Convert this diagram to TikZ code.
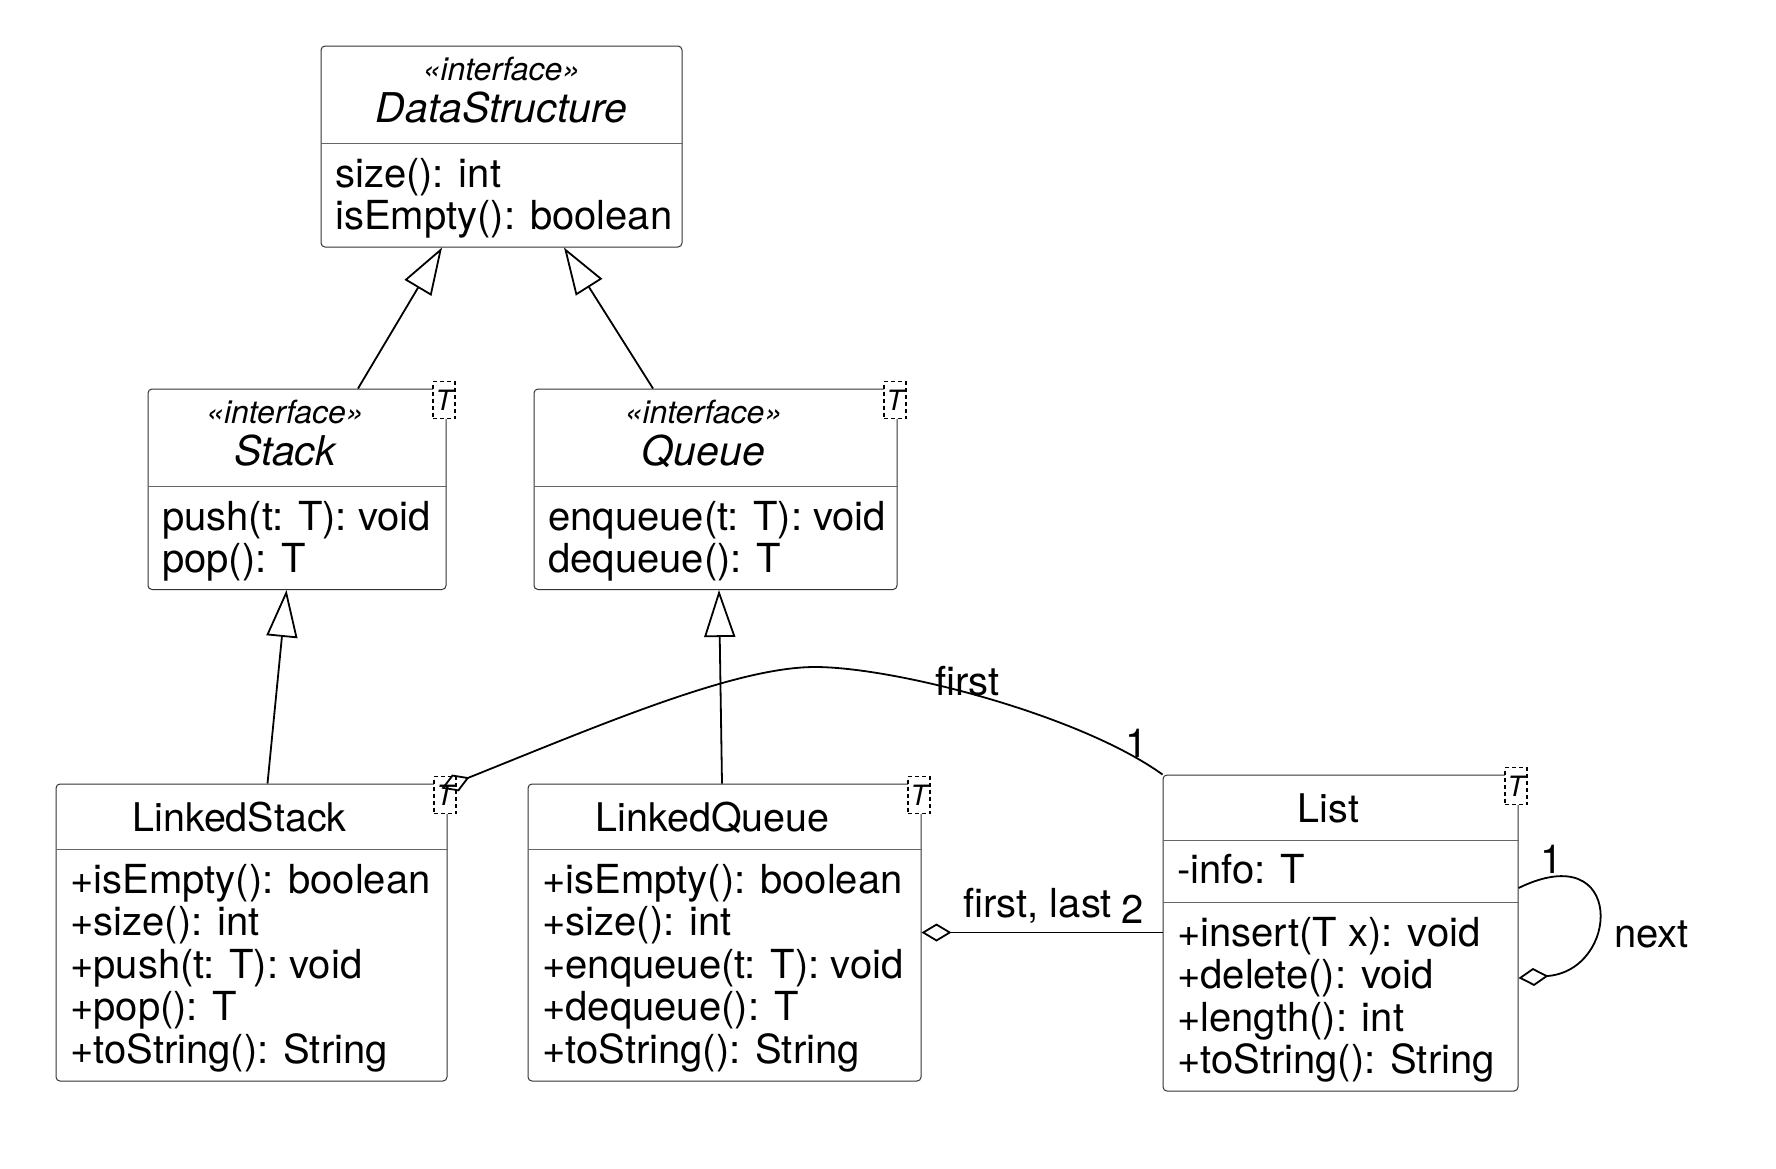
\documentclass[tikz,border=0pt]{standalone}
\usepackage{fontspec}
\setmainfont{TeX Gyre Heros}
\usetikzlibrary{arrows.meta}
\tikzset{
    classbox/.style = {draw=black!80, line width=1pt, rounded corners=4pt, inner sep=0pt},
    divider/.style = {draw=black!60, line width=1pt},
    member/.style = {anchor=base west, inner sep=0pt, font=\fontsize{40}{42}\selectfont},
    classname/.style = {anchor=base, inner sep=0pt, font=\fontsize{39.5}{42}\selectfont},
    ifname/.style = {classname, font=\itshape\fontsize{41}{42}\selectfont},
    stereo/.style = {anchor=base, inner sep=0pt, font=\itshape\fontsize{32}{34}\selectfont},
    tparam/.style = {draw=black, fill=white, line width=1.3pt, dash pattern=on 4pt off 3pt,
        minimum width=22pt, minimum height=37pt, inner sep=0pt, font=\itshape\fontsize{28}{28}\selectfont},
    realize/.style = {draw, line width=1.8pt, -{Triangle[open, length=47pt, width=31pt]}},
    aggr/.style = {draw, line width=1.8pt, {Diamond[open, length=30pt, width=18pt]}-},
    role/.style = {anchor=base west, inner sep=0pt, font=\fontsize{40}{42}\selectfont}
}
\begin{document}
\begin{tikzpicture}[x=1pt, y=-1pt]
    \useasboundingbox (0,0) rectangle (1776,1168);

    % class boxes
    \node[classbox, minimum width=361pt, minimum height=201pt] (ds) at (501.5,146.5) {};
    \node[classbox, minimum width=298pt, minimum height=200.5pt] (stack) at (297,489.25) {};
    \node[classbox, minimum width=363pt, minimum height=200.5pt] (queue) at (715.5,489.25) {};
    \node[classbox, minimum width=391pt, minimum height=297pt] (ls) at (251.5,932.5) {};
    \node[classbox, minimum width=393pt, minimum height=297pt] (lq) at (724.5,932.5) {};
    \node[classbox, minimum width=355pt, minimum height=316pt] (list) at (1340.5,933) {};

    % compartments
    \foreach \c/\d in {ds/98, stack/98, queue/98, ls/66, lq/66, list/66, list/128}
        \draw[divider] ([yshift=-\d pt]\c.north west) -- ([yshift=-\d pt]\c.north east);

    % DataStructure
    \node[stereo] (ds-st) at (501.5,80) {«interface»};
    \node[ifname] (ds-n) at (501.5,122) {DataStructure};
    \foreach \m [count=\i] in {size(): int, isEmpty(): boolean}
        \node[member] (ds-m\i) at ({335},{187+42.5*(\i-1)}) {\m};

    % Stack
    \node[stereo] (stack-st) at (285,423) {«interface»};
    \node[ifname] (stack-n) at (285,465) {Stack};
    \foreach \m [count=\i] in {push(t: T): void, pop(): T}
        \node[member] (stack-m\i) at ({162},{530+42.5*(\i-1)}) {\m};

    % Queue
    \node[stereo] (queue-st) at (703.5,423) {«interface»};
    \node[ifname] (queue-n) at (703.5,465) {Queue};
    \foreach \m [count=\i] in {enqueue(t: T): void, dequeue(): T}
        \node[member] (queue-m\i) at ({548},{530+42.5*(\i-1)}) {\m};

    % LinkedStack
    \node[classname] (ls-n) at (239.5,831) {LinkedStack};
    \foreach \m [count=\i] in {+isEmpty(): boolean, +size(): int, +push(t: T): void, +pop(): T, +toString(): String}
        \node[member] (ls-m\i) at ({70},{893+42.5*(\i-1)}) {\m};

    % LinkedQueue
    \node[classname] (lq-n) at (712.5,831) {LinkedQueue};
    \foreach \m [count=\i] in {+isEmpty(): boolean, +size(): int, +enqueue(t: T): void, +dequeue(): T, +toString(): String}
        \node[member] (lq-m\i) at ({542},{893+42.5*(\i-1)}) {\m};

    % List
    \node[classname] (list-n) at (1328.5,822) {List};
    \node[member] (list-a1) at (1177,883) {-info: T};
    \foreach \m [count=\i] in {+insert(T x): void, +delete(): void, +length(): int, +toString(): String}
        \node[member] (list-m\i) at ({1177},{946+42.5*(\i-1)}) {\m};

    % template parameters
    \node[tparam] (stack-t) at (444,400) {T};
    \node[tparam] (queue-t) at (895,400) {T};
    \node[tparam] (ls-t) at (445,795) {T};
    \node[tparam] (lq-t) at (919,795) {T};
    \node[tparam] (list-t) at (1516,786) {T};

    % generalisations
    \draw[realize] ([xshift=61pt]stack.north) -- ([xshift=-59.5pt]ds.south);
    \draw[realize] ([xshift=-62.5pt]queue.north) -- ([xshift=62.5pt]ds.south);
    \draw[realize] ([xshift=16pt]ls.north) -- ([xshift=-10.5pt]stack.south);
    \draw[realize] ([xshift=-2.5pt]lq.north) -- ([xshift=3.5pt]queue.south);

    % aggregations
    \coordinate (top) at (815,667);
    \draw[aggr] ([xshift=-6pt,yshift=-5pt]ls.north east) .. controls (600,725) and (735,667) .. (top)
        .. controls (895,667) and (1080,715) .. (list.north west);
    \node[role] (first-l) at (935,695) {first};
    \node[role] (first-m) at (1125,757) {1};

    \draw[aggr] (lq.east) -- (lq.east -| list.west);
    \node[role] (fl-l) at (963,917) {first, last};
    \node[role] (fl-m) at (1121,923) {2};

    \draw[aggr] ([yshift=-45pt]list.east) .. controls +(102,-7) and +(107,-52) .. ([yshift=45pt]list.east);
    \node[role] (next-m) at (1540,873) {1};
    \node[role] (next-l) at (1614,947) {next};
\end{tikzpicture}
\end{document}
